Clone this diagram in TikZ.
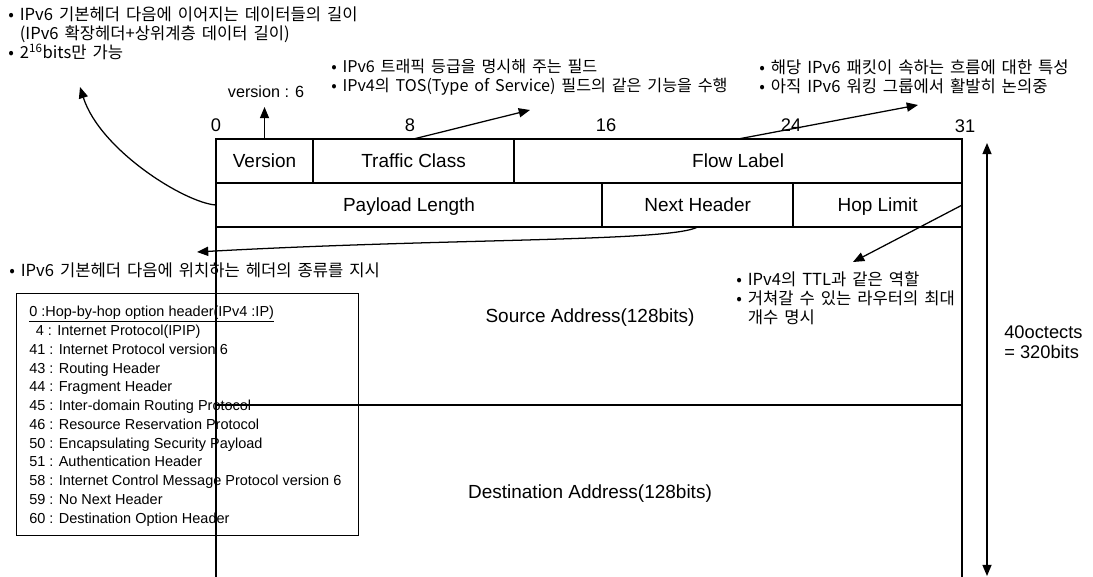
\documentclass[tikz,border=0pt]{standalone}
\usepackage{fontspec}
\setmainfont{Liberation Sans}
\newfontfamily\kr[WordSpace=1.6]{Noto Sans CJK KR}
\usepackage{tikz}
\usetikzlibrary{arrows.meta,positioning}
\tikzstyle{field} = [draw, line width=1.1pt, outer sep=0pt, inner sep=0pt, minimum height=1.1cm, text height=9.8pt, text depth=0.8pt, font=\fontsize{13.5}{16}\selectfont]
\tikzstyle{note} = [anchor=west, align=left, inner sep=0pt, font=\kr\fontsize{11.8}{13.5}\selectfont]
\tikzset{
  line/.style ={draw, line width=0.9pt, -{Triangle[width=6.5pt,length=8pt]}},
  twoway/.style ={draw, line width=0.9pt, {Triangle[width=6.5pt,length=8pt]}-{Triangle[width=6.5pt,length=8pt]}},
  frame/.style ={draw, line width=1.1pt},
  bitno/.style ={inner sep=0pt, font=\fontsize{13}{15}\selectfont}
}

\begin{document}
\begin{tikzpicture}[x=0.025cm,y=-0.025cm]
	\useasboundingbox (0,0) rectangle (1093,577);
	% next header values
	\node[draw, line width=1pt, anchor=north west, minimum width=8.55cm, minimum height=6.05cm, inner sep=0pt] (nhbox) at (16,293) {};
	\node[anchor=north west, inner sep=0pt, align=left, font=\fontsize{10.3}{13.35}\selectfont] (nhlist) at (29,306) {\underline{0 :Hop-by-hop option header(IPv4 :IP)}\\
	\hspace*{0.45em}4 : Internet Protocol(IPIP)\\
	41 : Internet Protocol version 6\\
	43 : Routing Header\\
	44 : Fragment Header\\
	45 : Inter-domain Routing Protocol\\
	46 : Resource Reservation Protocol\\
	50 : Encapsulating Security Payload\\
	51 : Authentication Header\\
	58 : Internet Control Message Protocol version 6\\
	59 : No Next Header\\
	60 : Destination Option Header};
	% header fields
	\node[field, anchor=north west, minimum width=2.425cm] (version) at (216,139) {Version};
	\node[field, right=0pt of version, minimum width=5.025cm] (traffic) {Traffic Class};
	\node[field, right=0pt of traffic, minimum width=11.2cm] (flow) {Flow Label};
	\node[field, below right=0pt of version.south west, minimum width=9.65cm] (payload) {Payload Length};
	\node[field, right=0pt of payload, minimum width=4.775cm] (nexthdr) {Next Header};
	\node[field, right=0pt of nexthdr, minimum width=4.225cm] (hop) {Hop Limit};
	\draw[frame] (payload.south west) -- ++(0,350);
	\draw[frame] (hop.south east) -- ++(0,350);
	\draw[frame] (216,405) -- (962,405);
	\node[font=\fontsize{13.5}{16}\selectfont] (src) at (590,318) {Source Address(128bits)};
	\node[font=\fontsize{13.5}{16}\selectfont] (dst) at (590,494) {Destination Address(128bits)};
	% bit positions
	\node[bitno] (b0) at (216,125) {0};
	\node[bitno] (b8) at (410,125) {8};
	\node[bitno] (b16) at (606,125) {16};
	\node[bitno] (b24) at (791,125) {24};
	\node[bitno] (b31) at (965,126) {31};
	% notes
	\node[inner sep=0pt, font=\fontsize{11.5}{14}\selectfont] (vlabel) at (266,92) {version : 6};
	\node[note] (plnote) at (8,33.5) {• IPv6 기본헤더 다음에 이어지는 데이터들의 길이\\\hphantom{•\ }(IPv6 확장헤더+상위계층 데이터 길이)\\• 2\textsuperscript{16}bits만 가능};
	\node[note, font=\kr\fontsize{11.5}{13.5}\selectfont] (tcnote) at (331,77.5) {• IPv6 트래픽 등급을 명시해 주는 필드\\• IPv4의 TOS(Type of Service) 필드의 같은 기능을 수행};
	\node[note] (flnote) at (759,76.5) {• 해당 IPv6 패킷이 속하는 흐름에 대한 특성\\• 아직 IPv6 워킹 그룹에서 활발히 논의중};
	\node[note] (nhnote) at (9,270) {• IPv6 기본헤더 다음에 위치하는 헤더의 종류를 지시};
	\node[note] (hlnote) at (736,298) {• IPv4의 TTL과 같은 역할\\• 거쳐갈 수 있는 라우터의 최대\\\hphantom{•\ }개수 명시};
	\node[anchor=west, align=left, inner sep=0pt, font=\fontsize{13}{14.5}\selectfont] (size) at (1004,342) {40octects\\= 320bits};
	\coordinate (tcend) at (530,110);
	\coordinate (flend) at (918,105);
	\coordinate (plend) at (80,87);
	\coordinate (nhend) at (197,252);
	\coordinate (hlend) at (853,262);
	\coordinate (sztop) at (987,143);
	\coordinate (szbot) at (987,576);
	% arrows
	\draw[line] (version.north) -- ++(0,-32);
	\draw[line] (traffic.north) -- (tcend);
	\draw[line] (flow.north) -- (flend);
	\draw[line] (payload.west) .. controls (185,203) and (100,150) .. (plend);
	\draw[line] (nexthdr.south) .. controls (670,242) and (450,238) .. (nhend);
	\draw[line] (hop.east) -- (hlend);
	\draw[twoway] (sztop) -- (szbot);
\end{tikzpicture}
\end{document}
